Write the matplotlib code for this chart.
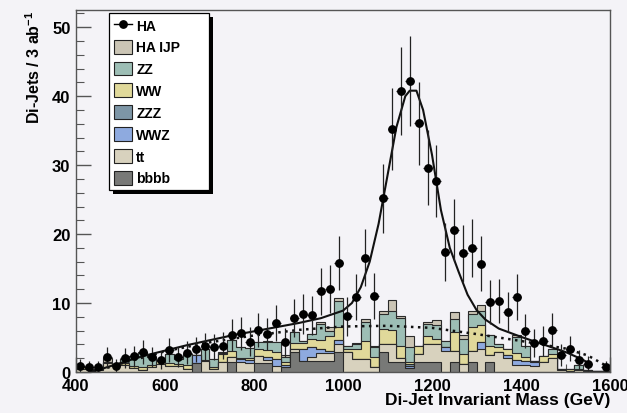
import matplotlib
matplotlib.use("Agg")

import numpy as np
import matplotlib.pyplot as plt
from matplotlib.patches import Patch, Rectangle
from matplotlib.lines import Line2D

plt.rcParams["font.family"] = ["Liberation Sans", "DejaVu Sans"]
plt.rcParams["font.weight"] = "bold"
plt.rcParams["axes.labelweight"] = "bold"
plt.rcParams["mathtext.fontset"] = "custom"
plt.rcParams["mathtext.rm"] = "Liberation Sans:bold"
plt.rcParams["mathtext.bf"] = "Liberation Sans:bold"

# 60 bins of 20 GeV from 400 to 1600
edges = np.arange(400, 1601, 20)
centers = edges[:-1] + 10

# data points (HA), one per bin
ha = [0.9, 0.7, 0.7, 2.2, 0.9, 2.0, 2.3, 2.9, 2.2, 1.7,
      3.2, 2.2, 2.8, 3.3, 3.7, 3.6, 3.8, 5.4, 5.6, 4.4,
      6.1, 5.5, 7.1, 4.3, 7.8, 8.4, 8.2, 11.7, 12.0, 15.8,
      8.1, 10.9, 16.6, 11.0, 25.2, 35.2, 40.7, 42.2, 36.1, 29.6,
      27.7, 17.4, 20.6, 17.2, 18.0, 15.7, 10.1, 10.3, 8.7, 10.9,
      6.0, 4.2, 4.5, 6.1, 2.5, 3.4, 1.8, 1.2, np.nan, 0.7]

# stacked backgrounds, bottom to top
bbbb = [0, 0, 0, 0, 0, 0, 0, 0, 0, 0,
        0, 0, 0, 1.3, 0, 0, 0, 1.5, 0, 0,
        1.3, 1.3, 0, 0.7, 2.9, 1.6, 1.6, 1.6, 1.6, 2.9,
        0, 0, 0, 0, 2.9, 1.4, 1.4, 0.6, 1.4, 1.4,
        1.4, 0, 1.4, 0, 1.4, 0, 1.4, 0, 0, 0,
        0, 0, 0, 0, 0, 0, 0, 0, 0, 0]
tt = [0.5, 0.4, 0.3, 1.3, 1.0, 1.0, 0.6, 0.3, 0.7, 1.2,
      0.9, 0.8, 0.5, 0, 1.6, 0.4, 1.5, 0.7, 1.5, 1.3,
      1.0, 0.5, 0.9, 0, 0.4, 0, 0.6, 1.2, 1.2, 1.2,
      2.9, 1.9, 1.9, 0.7, 1.2, 2.6, 0.6, 0, 1.2, 2.6,
      2.6, 3.1, 1.7, 1.2, 1.7, 3.4, 1.0, 2.9, 2.1, 1.0,
      1.0, 0.9, 1.4, 2.1, 0.3, 0.2, 0.3, 0.2, 0.1, 0.1]
wwz = [0, 0, 0, 0, 0, 0, 0, 0, 0, 0,
       0, 0, 0, 1.1, 0, 0, 0, 0, 0.4, 0.4,
       0, 0.4, 1.0, 0.3, 0, 1.7, 1.4, 0.5, 0.2, 0.5,
       0, 0, 0, 0, 0, 0, 0, 0.3, 0, 0,
       0, 0.5, 0, 0, 0, 1.0, 0, 0, 0.4, 0.8,
       0.6, 0.5, 0, 0, 0, 0, 0, 0, 0, 0]
zzz = [0, 0, 0, 0, 0, 0, 0, 0, 0, 0,
       0, 0, 0, 0, 0, 0, 0, 0, 0, 0,
       0, 0, 0, 0, 0, 0, 0, 0, 0, 0,
       0, 0, 0, 0, 0, 0, 0, 0.2, 0, 0,
       0, 0, 0, 0, 0, 0, 0, 0, 0, 0,
       0, 0, 0, 0, 0, 0, 0, 0, 0, 0]
ww = [0.2, 0, 0, 0.2, 0.2, 0.3, 0.3, 0.4, 0.3, 0.4,
      0.4, 0.4, 0.5, 0, 0.2, 0.3, 1.1, 0.9, 0.2, 0.3,
      1.0, 1.0, 1.0, 0.5, 0.9, 0.9, 1.2, 1.4, 2.2, 1.9,
      0.5, 1.5, 2.6, 1.5, 2.1, 2.1, 1.7, 0.3, 1.2, 1.2,
      0.8, 0, 2.7, 1.4, 3.4, 2.4, 1.4, 0.7, 0.8, 0.9,
      0.6, 0.2, 0.9, 0.5, 0.2, 0.2, 0.1, 0.1, 0, 0]
zz = [0, 0, 0, 0, 0, 0.6, 1.4, 2.0, 1.2, 0,
      1.3, 0.7, 1.6, 0.1, 1.6, 1.2, 0.2, 1.5, 1.5, 1.5,
      1.0, 1.2, 1.4, 0.7, 1.6, 0.3, 0.7, 2.2, 0.8, 3.8,
      0.4, 0.6, 2.7, 1.4, 2.2, 2.7, 4.1, 2.2, 0, 1.7,
      2.0, 0.9, 1.9, 2.2, 1.9, 2.0, 1.5, 0.5, 0, 2.4,
      1.6, 0, 0, 0.7, 0, 0, 0.6, 0, 0, 0]
ha_ijp = [0, 0, 0, 0.5, 0, 0, 0, 0.2, 0, 0,
          0, 0, 0, 0, 0, 0, 0.1, 0, 0, 0,
          0, 0.1, 0, 0.2, 0, 0, 0, 0.3, 0.5, 0.4,
          0, 0.2, 0.5, 0.2, 0.4, 1.7, 0.3, 1.6, 0, 0.4,
          0.8, 0, 1.0, 0.6, 0.5, 0.9, 0, 0, 0, 0.3,
          0, 0, 0, 0, 0, 0, 0, 0, 0, 0]

# fit curves
fit_x = [430, 460, 500, 550, 600, 650, 700, 750, 800, 850, 900, 950, 1000,
         1020, 1040, 1060, 1080, 1100, 1120, 1140, 1150, 1165, 1180, 1200,
         1220, 1240, 1260, 1280, 1300, 1320, 1350, 1400, 1450, 1500, 1535, 1555]
fit_y = [0.0, 0.5, 1.3, 2.3, 3.1, 3.9, 4.6, 5.3, 5.9, 6.5, 7.1, 7.8, 8.9,
         10.0, 12.3, 16.0, 21.5, 28.5, 35.5, 40.0, 40.8, 40.8, 38.0, 31.5,
         23.5, 18.0, 14.5, 11.2, 9.0, 7.6, 6.3, 5.1, 4.0, 2.9, 1.9, 1.2]
bkg_x = [440, 500, 600, 700, 800, 900, 1000, 1100, 1200, 1300, 1400, 1500, 1550, 1600]
bkg_y = [0.0, 1.2, 3.0, 4.3, 5.3, 6.1, 6.6, 6.7, 6.4, 5.5, 4.5, 3.4, 2.4, 0.6]

layers = [("bbbb", bbbb, "#787977"),
          ("tt", tt, "#d8d2be"),
          ("WWZ", wwz, "#8eaadf"),
          ("ZZZ", zzz, "#7d96a6"),
          ("WW", ww, "#e0d99a"),
          ("ZZ", zz, "#9dbeb5"),
          ("HA IJP", ha_ijp, "#cbc5b5")]

bg = "#f4f3f7"
fig = plt.figure(figsize=(6.27, 4.14), dpi=100, facecolor=bg)
ax = fig.add_axes([76 / 627, 1 - 373 / 414, 534 / 627, 362 / 414])
ax.set_facecolor(bg)

# ROOT style stack: draw cumulative sums from the top one down
cum = np.cumsum([np.array(v, dtype=float) for _, v, _ in layers], axis=0)
for i in range(len(layers) - 1, -1, -1):
    ax.stairs(cum[i], edges, baseline=0, fill=True, facecolor=layers[i][2],
              edgecolor="#2a2a2a", linewidth=0.8, zorder=2)

ax.plot(bkg_x, bkg_y, color="#111111", linestyle=(0, (1.0, 1.8)), lw=1.8, zorder=3)
ax.plot(fit_x, fit_y, color="#111111", lw=1.5, zorder=3)

ha = np.array(ha)
ax.errorbar(centers, ha, yerr=np.sqrt(ha), xerr=10, fmt="o", color="black",
            ecolor="#222222", elinewidth=0.9, ms=5.3, capsize=0, zorder=4)

ax.set_xlim(400, 1600)
ax.set_ylim(0, 52.5)
ax.set_xticks(range(400, 1601, 200))
ax.set_yticks(range(0, 51, 10))
ax.set_yticks(np.arange(0, 52.5, 2), minor=True)
ax.set_xticks(range(400, 1601, 50), minor=True)
ax.tick_params(axis="both", which="both", direction="in", colors="#555555",
               labelcolor="black", labelsize=12)
ax.tick_params(axis="y", which="major", length=11, width=1, pad=4)
ax.tick_params(axis="y", which="minor", length=5.5, width=0.8)
ax.tick_params(axis="x", which="major", length=11, width=1, pad=4)
ax.tick_params(axis="x", which="minor", length=5.5, width=0.8)
ax.set_axisbelow(True)
for s in ax.spines.values():
    s.set_color("#555555")
    s.set_linewidth(1)
    s.set_zorder(5)

ax.set_xlabel("Di-Jet Invariant Mass (GeV)", fontsize=12.5, fontweight="bold", loc="right")
ax.xaxis.set_label_coords(1.0, -0.055)
ax.set_ylabel("Di-Jets / 3 ab$^{-1}$", fontsize=11.5, fontweight="bold", loc="top")
ax.yaxis.set_label_coords(-0.062, 1.0)

# legend with a hard black shadow
handles = [Line2D([], [], color="black", marker="o", ms=5.3, lw=1.0)]
labels = ["HA"]
for name in ["HA IJP", "ZZ", "WW", "ZZZ", "WWZ", "tt", "bbbb"]:
    col = [c for n, _, c in layers if n == name][0]
    handles.append(Patch(facecolor=col, edgecolor="#222222", linewidth=0.8))
    labels.append(name)

lx0, ly0, lx1, ly1 = 109, 14, 209, 192
leg = fig.legend(handles, labels, loc="upper left", mode="expand",
                 bbox_to_anchor=(lx0 / 627, 1 - ly1 / 414, (lx1 - lx0) / 627, (ly1 - ly0) / 414),
                 borderaxespad=0, fancybox=False, framealpha=1, edgecolor="black",
                 facecolor="white", prop={"size": 10, "weight": "bold"},
                 handlelength=1.3, handleheight=1.15, handletextpad=0.3,
                 labelspacing=0.52, borderpad=0.36)
leg.get_frame().set_linewidth(0.9)
leg.set_zorder(6)

fig.canvas.draw()
bb = leg.get_window_extent().transformed(fig.transFigure.inverted())
fig.patches.append(Rectangle((bb.x0 + 4 / 627, bb.y0 - 4 / 414), bb.width, bb.height,
                             transform=fig.transFigure, facecolor="black",
                             edgecolor="none", zorder=5.5))

fig.savefig("out.png", dpi=100, facecolor=bg)
